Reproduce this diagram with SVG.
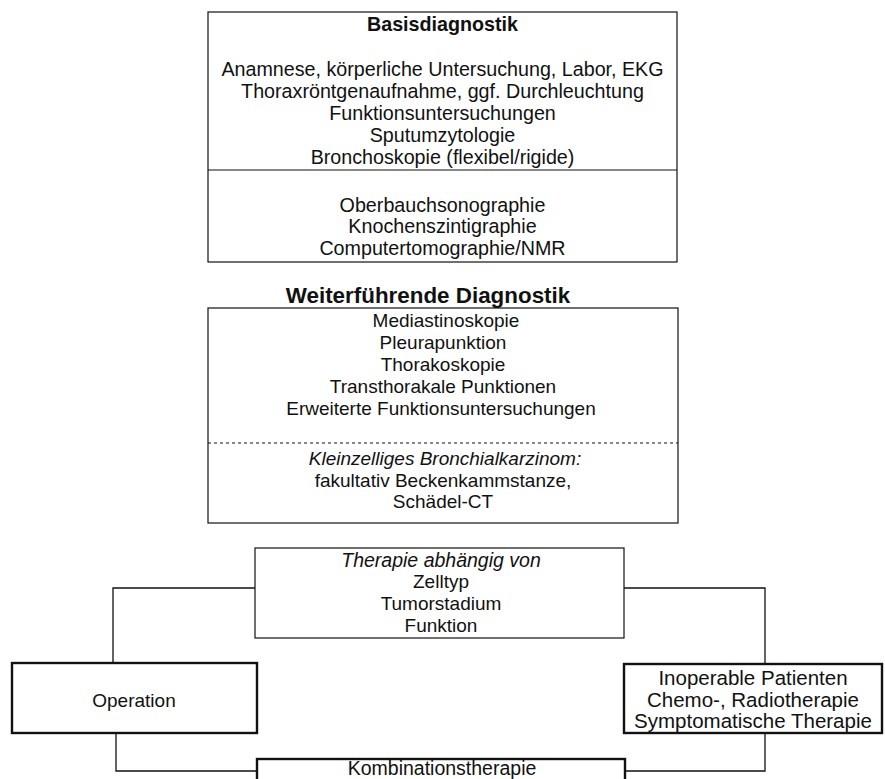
<svg xmlns="http://www.w3.org/2000/svg" width="885" height="779" viewBox="0 0 885 779">
<style>
text{font-family:"Liberation Sans",Arial,sans-serif;font-size:19px;fill:#111;text-anchor:middle}
.top{font-size:19.7px}
.b{font-weight:bold}
.h2{font-size:22.4px}
.i{font-style:italic}
.ino{font-size:20.5px}
.thin{fill:#fff;stroke:#111;stroke-width:1.2}
.thick{fill:#fff;stroke:#111;stroke-width:2.4}
.con{fill:none;stroke:#111;stroke-width:1.3}
</style>
<rect width="885" height="779" fill="#fff"/>
<g id="connectors">
<polyline class="con" points="255,588 113,588 113,663"/>
<polyline class="con" points="624,588 765,588 765,664"/>
<polyline class="con" points="116,733 116,771 257,771"/>
<polyline class="con" points="765,733 765,771 625,771"/>
</g>
<g id="basisdiagnostik">
<rect class="thin" x="208" y="12" width="469" height="250"/>
<line x1="208" y1="170" x2="677" y2="170" stroke="#111" stroke-width="1.2"/>
<text class="b top" x="442.5" y="31">Basisdiagnostik</text>
<text class="top" x="442.5" y="76">Anamnese, körperliche Untersuchung, Labor, EKG</text>
<text class="top" x="442.5" y="98">Thoraxröntgenaufnahme, ggf. Durchleuchtung</text>
<text class="top" x="442.5" y="120">Funktionsuntersuchungen</text>
<text class="top" x="442.5" y="142">Sputumzytologie</text>
<text class="top" x="442.5" y="164">Bronchoskopie (flexibel/rigide)</text>
<text class="top" x="442.5" y="212">Oberbauchsonographie</text>
<text class="top" x="442.5" y="233">Knochenszintigraphie</text>
<text class="top" x="442.5" y="255">Computertomographie/NMR</text>
</g>
<g id="weiterfuehrende">
<text class="b h2" x="428" y="303">Weiterführende Diagnostik</text>
<rect class="thin" x="208" y="308" width="470" height="215"/>
<text x="446" y="327">Mediastinoskopie</text>
<text x="443" y="349">Pleurapunktion</text>
<text x="443" y="371">Thorakoskopie</text>
<text x="443" y="393">Transthorakale Punktionen</text>
<text x="441" y="415">Erweiterte Funktionsuntersuchungen</text>
<line x1="208" y1="443" x2="678" y2="443" stroke="#111" stroke-width="1.2" stroke-dasharray="3,3"/>
<text class="i" x="445" y="465">Kleinzelliges Bronchialkarzinom:</text>
<text x="443" y="487">fakultativ Beckenkammstanze,</text>
<text x="443" y="508">Schädel-CT</text>
</g>
<g id="therapie">
<rect class="thin" x="255" y="548" width="369" height="90"/>
<text class="i" x="441" y="567" style="font-size:19.5px">Therapie abhängig von</text>
<text x="441" y="588">Zelltyp</text>
<text x="441" y="610">Tumorstadium</text>
<text x="441" y="632">Funktion</text>
</g>
<g id="operation">
<rect class="thick" x="12" y="663" width="245" height="70"/>
<text x="134" y="707">Operation</text>
</g>
<g id="inoperabel">
<rect class="thick" x="624" y="664" width="258" height="69"/>
<text class="ino" x="753" y="685">Inoperable Patienten</text>
<text class="ino" x="753" y="707">Chemo-, Radiotherapie</text>
<text class="ino" x="753" y="728">Symptomatische Therapie</text>
</g>
<g id="kombination">
<rect class="thick" x="257" y="759" width="368" height="40"/>
<text x="442" y="775" style="font-size:19.5px">Kombinationstherapie</text>
</g>
</svg>
